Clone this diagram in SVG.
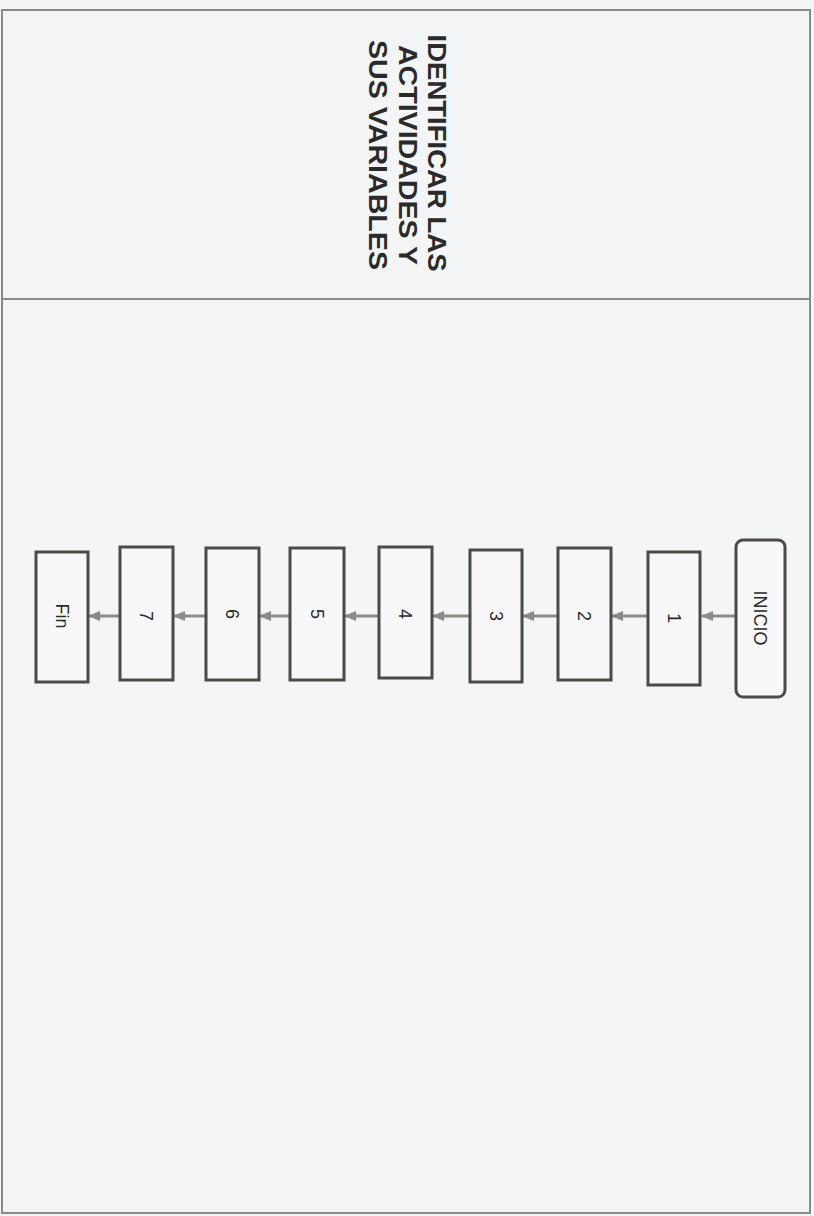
<svg xmlns="http://www.w3.org/2000/svg" width="814" height="1216" viewBox="0 0 814 1216">
<style>
.bg{fill:#f4f5f7}
.frame{fill:none;stroke:#8a8a8a;stroke-width:2}
.box{fill:#f8f8fa;stroke:#4a4a4a;stroke-width:3}
.lbl{font-family:"Liberation Sans",Arial,sans-serif;font-size:18px;fill:#2a2a2a;text-anchor:middle;dominant-baseline:central}
.title{font-family:"Liberation Sans",Arial,sans-serif;font-weight:bold;font-size:26px;fill:#2a2a2a;text-anchor:middle;dominant-baseline:central}
.conn{stroke:#8a8a8a;stroke-width:3;fill:none;marker-end:url(#ah)}
</style>
<defs>
<marker id="ah" viewBox="0 0 12 10" refX="11" refY="5" markerWidth="12" markerHeight="10" markerUnits="userSpaceOnUse" orient="auto">
<path d="M0,0 L12,5 L0,10 Z" fill="#8a8a8a"/>
</marker>
</defs>
<rect class="bg" x="0" y="0" width="814" height="1216"/>
<rect class="frame" x="2" y="10" width="808" height="1203"/>
<line x1="2" y1="299" x2="810" y2="299" stroke="#8a8a8a" stroke-width="2"/>
<g id="title">
<text class="title" transform="translate(437,153) rotate(90)" textLength="237" lengthAdjust="spacingAndGlyphs">IDENTIFICAR LAS</text>
<text class="title" transform="translate(408,155) rotate(90)" textLength="220" lengthAdjust="spacingAndGlyphs">ACTIVIDADES Y</text>
<text class="title" transform="translate(378,155) rotate(90)" textLength="230" lengthAdjust="spacingAndGlyphs">SUS VARIABLES</text>
</g>
<g id="connectors">
<line class="conn" x1="735" y1="616" x2="702" y2="616"/>
<line class="conn" x1="647" y1="616" x2="612" y2="616"/>
<line class="conn" x1="557" y1="616" x2="523" y2="616"/>
<line class="conn" x1="469" y1="616" x2="433" y2="616"/>
<line class="conn" x1="378" y1="616" x2="345" y2="616"/>
<line class="conn" x1="289" y1="616" x2="260" y2="616"/>
<line class="conn" x1="206" y1="616" x2="174" y2="616"/>
<line class="conn" x1="120" y1="616" x2="89" y2="616"/>
</g>
<g id="inicio">
<rect class="box" x="736" y="540" width="49" height="157" rx="7"/>
<text class="lbl" transform="translate(760,618) rotate(90)">INICIO</text>
</g>
<g id="n1">
<rect class="box" x="648" y="552" width="52" height="133"/>
<text class="lbl" transform="translate(674,618) rotate(90)">1</text>
</g>
<g id="n2">
<rect class="box" x="558" y="548" width="53" height="132"/>
<text class="lbl" transform="translate(584,616) rotate(90)">2</text>
</g>
<g id="n3">
<rect class="box" x="470" y="550" width="52" height="132"/>
<text class="lbl" transform="translate(496,616) rotate(90)">3</text>
</g>
<g id="n4">
<rect class="box" x="379" y="547" width="53" height="131"/>
<text class="lbl" transform="translate(405,614) rotate(90)">4</text>
</g>
<g id="n5">
<rect class="box" x="290" y="548" width="54" height="132"/>
<text class="lbl" transform="translate(317,614) rotate(90)">5</text>
</g>
<g id="n6">
<rect class="box" x="206" y="548" width="53" height="132"/>
<text class="lbl" transform="translate(232,614) rotate(90)">6</text>
</g>
<g id="n7">
<rect class="box" x="120" y="547" width="53" height="133"/>
<text class="lbl" transform="translate(146,616) rotate(90)">7</text>
</g>
<g id="fin">
<rect class="box" x="36" y="552" width="52" height="130"/>
<text class="lbl" transform="translate(62,616) rotate(90)">Fin</text>
</g>
</svg>
